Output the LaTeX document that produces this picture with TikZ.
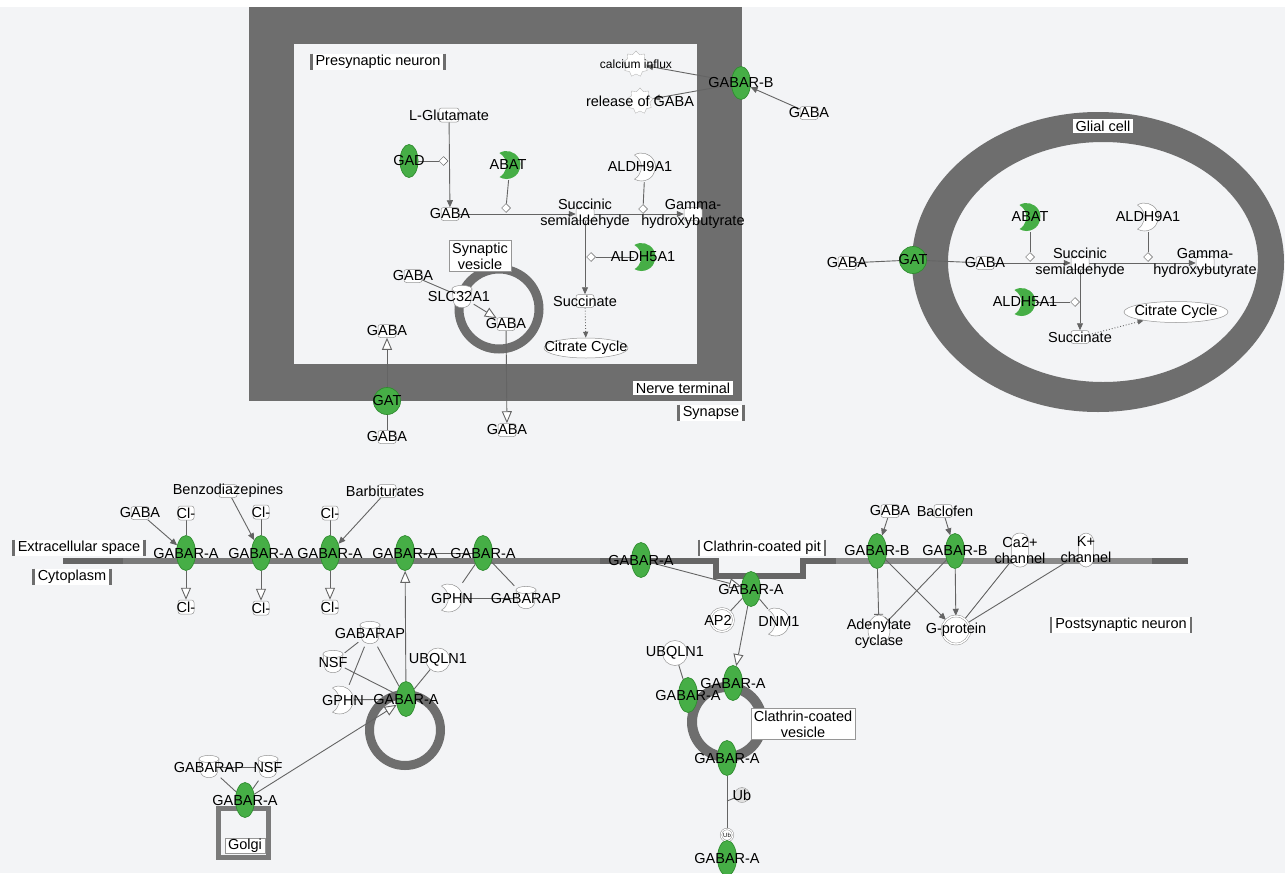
\documentclass[tikz,border=0pt]{standalone}
\usepackage{fontspec}
\setmainfont{Liberation Sans}
\usetikzlibrary{shapes.geometric,shapes.misc,arrows.meta,calc}
\definecolor{bgc}{RGB}{243,244,246}
\definecolor{dk}{RGB}{110,110,110}
\definecolor{ln}{RGB}{100,100,100}
\definecolor{grn}{RGB}{70,174,70}
\definecolor{grnb}{RGB}{48,140,48}
\definecolor{nb}{RGB}{150,150,150}
\definecolor{memA}{RGB}{102,102,102}
\definecolor{memB}{RGB}{122,122,122}
\definecolor{memC}{RGB}{138,138,138}
\pgfdeclarelayer{bg}
\pgfdeclarelayer{edges}
\pgfsetlayers{bg,edges,main}
\tikzset{
  txt/.style={font=\fontsize{14.5}{16}\selectfont, text=black, inner sep=0pt, align=center},
  smalltxt/.style={font=\fontsize{12}{13}\selectfont, text=black, inner sep=0pt},
  tinytxt/.style={font=\fontsize{6}{7}\selectfont, text=black, inner sep=0pt},
  gell/.style={ellipse, minimum width=19, minimum height=35, inner sep=0pt, fill=grn, draw=grnb, line width=0.7},
  gcirc/.style={circle, minimum size=27, inner sep=0pt, fill=grn, draw=grnb, line width=0.7},
  chem/.style={rectangle, rounded corners=2.5, minimum width=18, minimum height=13, inner sep=0pt, fill=white, draw=nb, line width=0.5},
  wcirc/.style={circle, minimum size=24, inner sep=0pt, fill=white, draw=nb, line width=0.5},
  dcirc/.style={circle, minimum size=26, inner sep=0pt, fill=white, draw=nb, line width=0.5, double=white, double distance=1.4pt},
  chan/.style={rectangle, rounded corners=8, minimum width=17, minimum height=34, inner sep=0pt, fill=white, draw=nb, line width=0.5},
  well/.style={ellipse, minimum width=22, minimum height=30, inner sep=0pt, fill=white, draw=nb, line width=0.5},
  cup/.style={rectangle, minimum width=23, minimum height=27, inner sep=0pt,
    path picture={
      \filldraw[fill=white,draw=nb,line width=0.5] ([shift={(-10,-8)}]path picture bounding box.center) -- ([shift={(-8.5,5)}]path picture bounding box.center) .. controls ([shift={(-7,12.5)}]path picture bounding box.center) and ([shift={(7,12.5)}]path picture bounding box.center) .. ([shift={(8.5,5)}]path picture bounding box.center) -- ([shift={(10,-8)}]path picture bounding box.center) -- cycle;
      \filldraw[fill=white,draw=nb,line width=0.5] ([shift={(0,-8)}]path picture bounding box.center) ellipse[x radius=10,y radius=3.6];}},
  cresg/.style={rectangle, minimum width=22, minimum height=30, inner sep=0pt,
    path picture={\fill[grn] ([shift={(-10.5,-12.12)}]path picture bounding box.center) arc[start angle=-120,end angle=120,radius=14] arc[start angle=59.74,end angle=-59.74,radius=13.9] -- cycle;}},
  cresw/.style={rectangle, minimum width=22, minimum height=30, inner sep=0pt,
    path picture={\filldraw[fill=white,draw=nb,line width=0.5] ([shift={(-10.5,-12.12)}]path picture bounding box.center) arc[start angle=-120,end angle=120,radius=14] arc[start angle=59.74,end angle=-59.74,radius=13.9] -- cycle;}},
  gear/.style={star, star points=9, star point ratio=1.3, minimum size=26, inner sep=0pt, fill=white, draw=nb!70, line width=0.4},
  diam/.style={diamond, minimum width=9, minimum height=9, inner sep=0pt, fill=white, draw=ln, line width=0.5},
  ubc/.style={circle, minimum size=15, inner sep=0pt, fill=black!12, draw=nb, line width=0.4},
  bar/.style={draw=dk, line width=2.5pt},
  clab/.style={txt, fill=white, inner xsep=4pt, inner ysep=1.5pt,
    append after command={(\tikzlastnode.north west) edge[bar] (\tikzlastnode.south west)
                          (\tikzlastnode.north east) edge[bar] (\tikzlastnode.south east)}},
  lbox/.style={txt, fill=white, draw=nb, line width=0.6, inner xsep=3pt, inner ysep=2pt},
  wbox/.style={txt, fill=white, inner xsep=3pt, inner ysep=2pt},
  e/.style={draw=ln, line width=0.9},
  arr/.style={e, -{Triangle[length=7pt,width=6pt]}},
  oarr/.style={e, -{Triangle[length=12pt,width=10pt,fill=white]}},
  inh/.style={e, -{Bar[width=9pt]}},
  dotarr/.style={e, dotted, -{Triangle[length=6pt,width=5pt]}},
  gabara/.style={gell, label={[txt]center:GABAR-A}},
  gabarb/.style={gell, label={[txt]center:GABAR-B}},
  gabac/.style={chem, label={[txt]center:GABA}},
  clion/.style={chem, minimum width=16, minimum height=14, label={[txt]center:Cl-}},
}
\begin{document}
\begin{tikzpicture}[x=1pt,y=-1pt]
\useasboundingbox (0,0) rectangle (1285,873);
\begin{pgfonlayer}{bg}
\fill[bgc] (0,0) rectangle (1285,873);
\fill[white] (0,0) rectangle (1285,7);
% presynaptic nerve terminal
\fill[dk] (249,7) rectangle (742,401);
\fill[bgc] (294,44) rectangle (697,364);
% glial cell
\fill[dk,even odd rule] (1098,262) ellipse[x radius=186,y radius=150] (1103,262) ellipse[x radius=155,y radius=120];
% vesicles and golgi
\draw[dk,line width=9] (499,309) circle[radius=40];
\draw[dk,line width=9] (405,730) circle[radius=35.5];
\draw[dk,line width=10] (727,722) circle[radius=35];
\draw[memB,line width=5] (218,808.5) rectangle (268.5,857.5);
% membrane
\draw[memA,line width=6.5] (63,561) -- (123,561);
\draw[memB,line width=6.5] (123,561) -- (600,561);
\draw[memA,line width=6.5,line join=miter] (600,561) -- (716,561) -- (716,576) -- (803,576) -- (803,561) -- (836,561);
\draw[memC,line width=6.5] (836,561) -- (1152,561);
\draw[memA,line width=6.5] (1152,561) -- (1188,561);
\end{pgfonlayer}

% ---------- compartment labels ----------
\node[clab] (lpre) at (378,62) {Presynaptic neuron};
\node[wbox] (lnt) at (683,388) {Nerve terminal};
\node[clab] (lsyn) at (711,413) {Synapse};
\node[lbox] (lsv) at (480,256) {Synaptic\\vesicle};
\node[wbox] (lglia) at (1103,126) {Glial cell};
\node[clab] (lecs) at (79,548) {Extracellular space};
\node[clab] (lcyt) at (72,577) {Cytoplasm};
\node[clab] (lccp) at (762,548) {Clathrin-coated pit};
\node[clab] (lpsn) at (1121,625) {Postsynaptic neuron};
\node[lbox] (lccv) at (803,724) {Clathrin-coated\\vesicle};

% ---------- presynaptic neuron ----------
\node[gear, label={[smalltxt]center:calcium influx}] (calc) at (636,64) {};
\node[gear, label={[txt]center:release of GABA}] (rel) at (640,101) {};
\node[gabarb, minimum height=33] (rbp) at (741,83) {};
\node[gabac] (gext) at (809,113) {};
\node[chem, minimum width=20, minimum height=14, label={[txt]center:L-Glutamate}] (glu) at (449,115) {};
\node[gell, minimum width=18, minimum height=33, label={[txt]center:GAD}] (gad) at (409,161) {};
\node[diam] (dgad) at (443.5,161) {};
\node[gabac] (gp) at (450,214) {};
\node[cresg, label={[txt,xshift=-2pt]center:ABAT}] (abat) at (510,165) {};
\node[diam] (dabat) at (506,208) {};
\node[chem, label={[txt]center:{Succinic\\semialdehyde}}] (ssa) at (585,214) {};
\node[cresw, label={[txt,xshift=-5pt]center:ALDH9A1}] (aldh9) at (645,167) {};
\node[diam] (daldh9) at (643,209) {};
\node[chem, label={[txt]center:{Gamma-\\hydroxybutyrate}}] (ghb) at (693,214) {};
\node[cresg, label={[txt,xshift=-2pt]center:ALDH5A1}] (aldh5) at (645,257) {};
\node[diam] (daldh5) at (591,257) {};
\node[chem, label={[txt]center:Succinate}] (succ) at (585,301) {};
\node[ellipse, minimum width=84, minimum height=20, inner sep=0pt, fill=white, draw=nb, line width=0.5, label={[txt]center:Citrate Cycle}] (cit) at (586,348) {};
\node[gabac] (gv1) at (413,276) {};
\node[cup, label={[txt,xshift=-3pt]center:SLC32A1}] (slc) at (462,297) {};
\node[gabac] (gv2) at (506,324) {};
\node[gabac] (gout2) at (507,430) {};
\node[gcirc, label={[txt]center:GAT}] (gatp) at (387,401) {};
\node[gabac] (gin3) at (387,331) {};
\node[gabac] (gout1) at (387,437) {};

% ---------- glial cell ----------
\node[gabac] (ggo) at (847,263) {};
\node[gcirc, label={[txt]center:GAT}] (gatg) at (913,260) {};
\node[gabac] (ggi) at (985,263) {};
\node[cresg, label={[txt]center:ABAT}] (abatg) at (1030,217) {};
\node[diam] (dabatg) at (1030,257) {};
\node[chem, label={[txt]center:{Succinic\\semialdehyde}}] (ssag) at (1080,263) {};
\node[cresw, label={[txt]center:ALDH9A1}] (aldh9g) at (1148,217) {};
\node[diam] (daldh9g) at (1148,257) {};
\node[chem, label={[txt]center:{Gamma-\\hydroxybutyrate}}] (ghbg) at (1205,263) {};
\node[cresg, label={[txt]center:ALDH5A1}] (aldh5g) at (1025,302) {};
\node[diam] (daldh5g) at (1075,302) {};
\node[chem, label={[txt]center:Succinate}] (succg) at (1080,337) {};
\node[ellipse, minimum width=104, minimum height=21, inner sep=0pt, fill=white, draw=nb, line width=0.5, label={[txt]center:Citrate Cycle}] (citg) at (1176,312) {};

% ---------- postsynaptic: membrane receptors ----------
\node[gabara] (ra1) at (186,553) {};
\node[gabara] (ra2) at (261,553) {};
\node[gabara] (ra3) at (330,553) {};
\node[gabara] (ra4) at (405,553) {};
\node[gabara] (ra5) at (483,553) {};
\node[clion] (cl1t) at (186,513) {};
\node[clion] (cl2t) at (261,512) {};
\node[clion] (cl3t) at (330,513) {};
\node[clion] (cl1b) at (186,607) {};
\node[clion] (cl2b) at (261,608) {};
\node[clion] (cl3b) at (330,607) {};
\node[gabac] (gab) at (140,513) {};
\node[chem, label={[txt]center:Benzodiazepines}] (benzo) at (228,491) {};
\node[chem, label={[txt,xshift=-2pt]center:Barbiturates}] (barb) at (387,491) {};
\node[cresw, label={[txt]center:GPHN}] (gphn1) at (452,598) {};
\node[cup, label={[txt]center:GABARAP}] (grap1) at (526,598) {};

% cluster on vesicle
\node[cup, label={[txt]center:GABARAP}] (grap2) at (370,633) {};
\node[cup, label={[txt]center:NSF}] (nsf2) at (333,662) {};
\node[wcirc, label={[txt]center:UBQLN1}] (ubq2) at (438,660) {};
\node[cresw, label={[txt]center:GPHN}] (gphn2) at (343,700) {};
\node[gabara] (rac) at (406,699) {};

% golgi
\node[cup, label={[txt]center:GABARAP}] (grap3) at (209,767) {};
\node[cup, label={[txt]center:NSF}] (nsf3) at (268,767) {};
\node[gabara] (rag) at (245,800) {};
\node[lbox, inner ysep=1pt] (lgolgi) at (245,846) {Golgi};

% clathrin pathway
\node[gabara] (ram) at (641,560) {};
\node[gabara] (rap) at (751,589) {};
\node[dcirc, minimum size=23, label={[txt,xshift=-4pt]center:AP2}] (ap2) at (722,620) {};
\node[cresw, label={[txt]center:DNM1}] (dnm1) at (779,622) {};
\node[gabara] (rav1) at (733,683) {};
\node[gabara] (rav2) at (688,695) {};
\node[wcirc, minimum size=25, label={[txt]center:UBQLN1}] (ubq3) at (675,653) {};
\node[gabara] (rav3) at (727,758) {};
\node[ubc, label={[txt]center:Ub}] (ub1) at (742,795) {};
\node[dcirc, minimum size=12, double distance=1pt, label={[tinytxt]center:Ub}] (ub2) at (727,835) {};
\node[gabara] (raf) at (727,858) {};
\coordinate (ubj) at (727,801);

% GABA-B side
\node[gabarb] (rb1) at (877,551) {};
\node[gabarb] (rb2) at (955,551) {};
\node[gabac] (gabr) at (890,511) {};
\node[chem, label={[txt,xshift=2pt]center:Baclofen}] (bacl) at (943,511) {};
\node[chan, label={[txt]center:{Ca2+\\channel}}] (ca) at (1020,550) {};
\node[chan, minimum width=15, label={[txt]center:{K+\\channel}}] (kch) at (1086,550) {};
\node[well, label={[txt,yshift=-4pt]center:{Adenylate\\cyclase}}] (ac) at (879,630) {};
\node[dcirc, minimum size=28, label={[txt]center:G-protein}] (gprot) at (956,630) {};

% ---------- connectors ----------
\begin{pgfonlayer}{edges}
% presynaptic
\draw[arr] (glu) -- (gp);
\draw[e] (gad) -- (dgad);
\draw[e] (abat) -- (dabat);
\draw[arr] (gp) -- (ssa);
\draw[e] (aldh9) -- (daldh9);
\draw[arr] (ssa) -- (ghb);
\draw[arr] (ssa) -- (succ);
\draw[e] (aldh5) -- (daldh5);
\draw[dotarr] (succ) -- (cit);
\draw[e] (gv1) -- (slc);
\draw[oarr] (slc) -- (gv2);
\draw[oarr] (gv2) -- (gout2);
\draw[oarr] (gatp) -- (gin3);
\draw[e] (gatp) -- (gout1);
\draw[arr] (rbp) -- (calc);
\draw[arr] (rbp) -- (rel);
\draw[arr] (gext) -- (rbp);
% glial
\draw[e] (ggo) -- (gatg);
\draw[e] (gatg) -- (ggi);
\draw[arr] (ggi) -- (ssag);
\draw[arr] (ssag) -- (ghbg);
\draw[arr] (ssag) -- (succg);
\draw[dotarr] (succg) -- (citg);
\draw[e] (abatg) -- (dabatg);
\draw[e] (aldh9g) -- (daldh9g);
\draw[e] (aldh5g) -- (daldh5g);
% membrane receptors
\draw[e] (cl1t) -- (ra1);
\draw[e] (cl2t) -- (ra2);
\draw[e] (cl3t) -- (ra3);
\draw[oarr] (ra1) -- (cl1b);
\draw[oarr] (ra2) -- (cl2b);
\draw[oarr] (ra3) -- (cl3b);
\draw[arr] (gab) -- (ra1);
\draw[arr] (benzo) -- (ra2);
\draw[arr] (barb) -- (ra3);
\draw[e] (ra4) -- (ra5);
\draw[e] (ra5) -- (gphn1);
\draw[e] (ra5) -- (grap1);
\draw[e] (gphn1) -- (grap1);
% vesicle cluster
\draw[e] (grap2) -- (nsf2);
\draw[e] (grap2) -- (gphn2);
\draw[e] (grap2) -- (rac);
\draw[e] (nsf2) -- (rac);
\draw[e] (ubq2) -- (rac);
\draw[e] (gphn2) -- (rac);
\draw[oarr] (rac) -- (ra4);
% golgi
\draw[e] (grap3) -- (nsf3);
\draw[e] (grap3) -- (rag);
\draw[e] (nsf3) -- (rag);
\draw[oarr] (rag) -- (rac);
% clathrin
\draw[oarr] (ram) -- (rap);
\draw[e] (rap) -- (ap2);
\draw[e] (rap) -- (dnm1);
\draw[oarr] (rap) -- (rav1);
\draw[e] (ubq3) -- (rav2);
\draw[e] (rav3) -- (ub2);
\draw[e] (ub1) -- (ubj);
% GABA-B
\draw[arr] (gabr) -- (rb1);
\draw[arr] (bacl) -- (rb2);
\draw[inh] (rb1) -- (ac);
\draw[arr] (rb1) -- (gprot);
\draw[inh] (rb2) -- (ac);
\draw[arr] (rb2) -- (gprot);
\draw[inh] (gprot) -- (ca);
\draw[e] (kch) -- (gprot);
\end{pgfonlayer}
\end{tikzpicture}
\end{document}
